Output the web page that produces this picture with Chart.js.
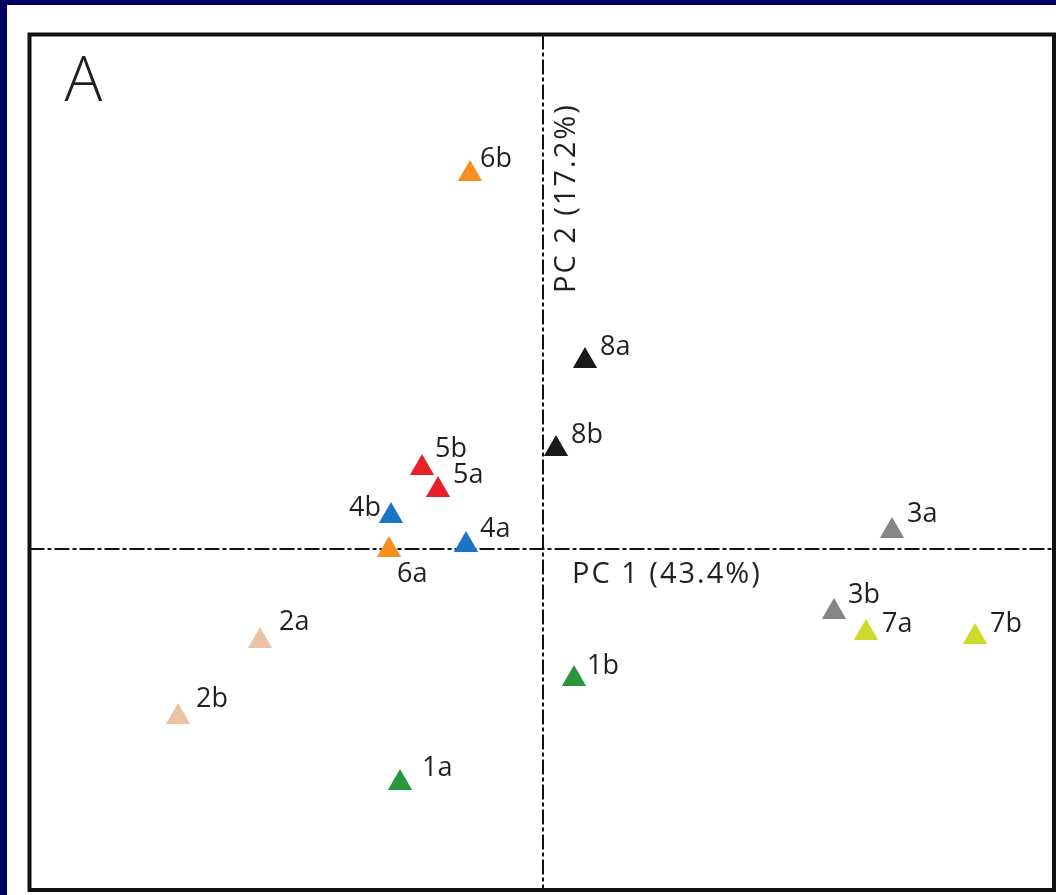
<!DOCTYPE html>
<html>
<head>
<meta charset="utf-8">
<script src="https://cdn.jsdelivr.net/npm/chart.js@4/dist/chart.umd.min.js"></script>
<style>
  html, body { margin: 0; padding: 0; background: #00005f; }
  body { width: 1056px; height: 895px; overflow: hidden; position: relative; }
  #wrap { position: absolute; left: 7px; top: 5px; width: 1049px; height: 890px; background: #fff; }
</style>
</head>
<body>
<div id="wrap"><canvas id="pcaChart" width="1049" height="890"></canvas></div>
<script>
// sample scores on the first two principal components
const sampleLabels = ["1a", "1b", "2a", "2b", "3a", "3b", "4a", "4b", "5a", "5b", "6a", "6b", "7a", "7b", "8a", "8b"];
const pc1Scores = [-1.43, 0.31, -2.83, -3.65, 3.49, 2.91, -0.77, -1.52, -1.05, -1.21, -1.54, -0.73, 3.23, 4.32, 0.42, 0.13];
const pc2Scores = [-2.34, -1.30, -0.92, -1.68, 0.18, -0.63, 0.04, 0.33, 0.59, 0.81, -0.01, 3.75, -0.84, -0.88, 1.88, 1.00];
const groupColors = ["#27963c", "#e9c3a4", "#858585", "#1b74c4", "#e8202a", "#f7901e", "#ccdb2a", "#1a1a1a"];
const axisTitles = ["PC 1 (43.4%)", "PC 2 (17.2%)"];
const panelLetter = "A";

// label offsets from the marker (px), right of it unless noted
const labelOffsets = {
  "1a": [22, -7], "1b": [13, -5], "2a": [19, -11], "2b": [18, -10],
  "3a": [15, -9], "3b": [14, -9], "4a": [14, -8], "4b": [-10, 0, "right"],
  "5a": [15, -7], "5b": [13, -11], "6a": [8, 32], "6b": [10, -7],
  "7a": [16, -1], "7b": [15, -5], "8a": [15, -6], "8b": [15, -6]
};

const points = sampleLabels.map((l, i) => ({ x: pc1Scores[i], y: pc2Scores[i] }));
const pointColors = sampleLabels.map(l => groupColors[parseInt(l) - 1]);

const pcaDecor = {
  id: "pcaDecor",
  beforeDatasetsDraw(chart) {
    const { ctx, chartArea: a, scales } = chart;
    const x0 = scales.x.getPixelForValue(0);
    const y0 = scales.y.getPixelForValue(0);
    ctx.save();
    ctx.strokeStyle = "#111";
    ctx.lineWidth = 2;
    ctx.setLineDash([15, 3, 4, 3]);
    ctx.beginPath();
    ctx.moveTo(x0, a.top); ctx.lineTo(x0, a.bottom);
    ctx.moveTo(a.left, y0); ctx.lineTo(a.right, y0);
    ctx.stroke();
    ctx.restore();
  },
  afterDraw(chart) {
    const { ctx, chartArea: a, scales } = chart;
    const x0 = scales.x.getPixelForValue(0);
    const y0 = scales.y.getPixelForValue(0);
    ctx.save();
    ctx.strokeStyle = "#111";
    ctx.lineWidth = 4;
    ctx.strokeRect(a.left, a.top, a.right - a.left, a.bottom - a.top);

    ctx.fillStyle = "#231f20";
    ctx.textBaseline = "alphabetic";
    ctx.font = '27px "Open Sans"';
    sampleLabels.forEach((l, i) => {
      const off = labelOffsets[l] || [14, -7];
      ctx.textAlign = off[2] || "left";
      ctx.fillText(l, scales.x.getPixelForValue(pc1Scores[i]) + off[0], scales.y.getPixelForValue(pc2Scores[i]) + off[1]);
    });

    ctx.textAlign = "left";
    ctx.font = '29px "Open Sans"';
    ctx.letterSpacing = "2px";
    ctx.fillText(axisTitles[0], x0 + 29, y0 + 34);
    ctx.save();
    ctx.translate(x0 + 32, y0 - 256);
    ctx.rotate(-Math.PI / 2);
    ctx.fillText(axisTitles[1], 0, 0);
    ctx.restore();

    ctx.letterSpacing = "0px";
    ctx.font = '300 63px "Open Sans"';
    ctx.fillText(panelLetter, a.left + 35, a.top + 66);
    ctx.restore();
  }
};

new Chart(document.getElementById("pcaChart").getContext("2d"), {
  type: "scatter",
  data: {
    datasets: [{
      data: points,
      pointStyle: "triangle",
      pointRadius: 14,
      pointHoverRadius: 14,
      pointBorderWidth: 0,
      pointBackgroundColor: pointColors,
      pointBorderColor: pointColors
    }]
  },
  options: {
    responsive: false,
    animation: false,
    layout: { autoPadding: false, padding: { left: 22.5, top: 29.5, right: 2, bottom: 5 } },
    scales: {
      x: { type: "linear", min: -5.135, max: 5.11, display: false },
      y: { type: "linear", min: -3.41, max: 5.145, display: false }
    },
    plugins: { legend: { display: false }, tooltip: { enabled: false } }
  },
  plugins: [pcaDecor]
});
</script>
</body>
</html>
